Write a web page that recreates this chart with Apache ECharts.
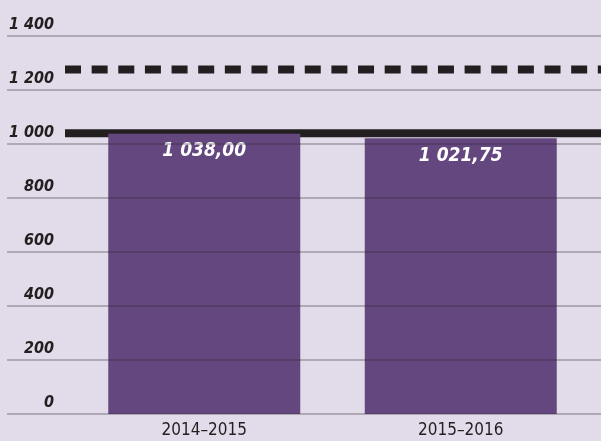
<!DOCTYPE html>
<html><head><meta charset="utf-8">
<script src="https://cdn.jsdelivr.net/npm/echarts@6/dist/echarts.min.js"></script>
<style>html,body{margin:0;padding:0;background:#e2dcea}#c{width:601px;height:441px}</style>
</head><body><div id="c"></div>
<script>
const categories = ['2014–2015', '2015–2016'];
const barValues = [1038.00, 1021.75];
const solidRef = [1040, 1040];
const dashedRef = [1276, 1276];
const yTicks = { min: 0, max: 1400, interval: 200 };

const FONT = '"Liberation Sans Narrow", "Arial Narrow", "DejaVu Sans Condensed", sans-serif';
const fmt = v => {
  const s = v.toFixed(2).replace('.', ',');
  const [i, d] = s.split(',');
  return i.replace(/\B(?=(\d{3})+(?!\d))/g, ' ') + ',' + d;
};

const chart = echarts.init(document.getElementById('c'), null, { renderer: 'canvas' });
chart.setOption({
  backgroundColor: '#e2dcea',
  animation: false,
  grid: [
    { left: 7, right: 0, top: 36, bottom: 27 },
    { left: 76, right: 12, top: 36, bottom: 27 },
    { left: 65, right: 0, top: 36, bottom: 27 }
  ],
  xAxis: [
    { gridIndex: 0, type: 'value', show: false, min: 0, max: 1 },
    { gridIndex: 1, type: 'category', data: categories,
      axisLine: { show: false }, axisTick: { show: false },
      axisLabel: { color: '#231f20', fontFamily: FONT, fontSize: 17, margin: 8 } },
    { gridIndex: 2, type: 'category', data: ['a', 'b'], boundaryGap: false, show: false }
  ],
  yAxis: [
    { gridIndex: 0, type: 'value', min: yTicks.min, max: yTicks.max, interval: yTicks.interval, z: 5,
      axisLine: { show: false }, axisTick: { show: false },
      splitLine: { show: true, lineStyle: { color: 'rgba(43,40,48,0.38)', width: 1.5 } },
      axisLabel: { inside: true, margin: 47, align: 'right', verticalAlign: 'bottom', padding: [0, 0, 3, 0],
        color: '#231f20', fontFamily: FONT, fontSize: 16, fontWeight: 'bold', fontStyle: 'italic',
        formatter: v => String(v).replace(/\B(?=(\d{3})+(?!\d))/g, ' ') } },
    { gridIndex: 1, type: 'value', min: yTicks.min, max: yTicks.max, show: false },
    { gridIndex: 2, type: 'value', min: yTicks.min, max: yTicks.max, show: false }
  ],
  series: [
    { type: 'line', xAxisIndex: 2, yAxisIndex: 2, data: solidRef, z: 1, showSymbol: false, silent: true,
      lineStyle: { color: '#231f20', width: 8, cap: 'butt' } },
    { type: 'line', xAxisIndex: 2, yAxisIndex: 2, data: dashedRef, z: 1, showSymbol: false, silent: true,
      lineStyle: { color: '#231f20', width: 8, type: [16, 10.64], cap: 'butt' } },
    { type: 'bar', xAxisIndex: 1, yAxisIndex: 1, data: barValues, barWidth: 192, z: 2,
      itemStyle: { color: '#654780' },
      label: { show: true, position: 'insideTop', distance: 8, color: '#ffffff',
        fontFamily: FONT, fontSize: 19, fontWeight: 'bold', fontStyle: 'italic',
        formatter: p => fmt(p.value) } }
  ]
});
</script></body></html>
